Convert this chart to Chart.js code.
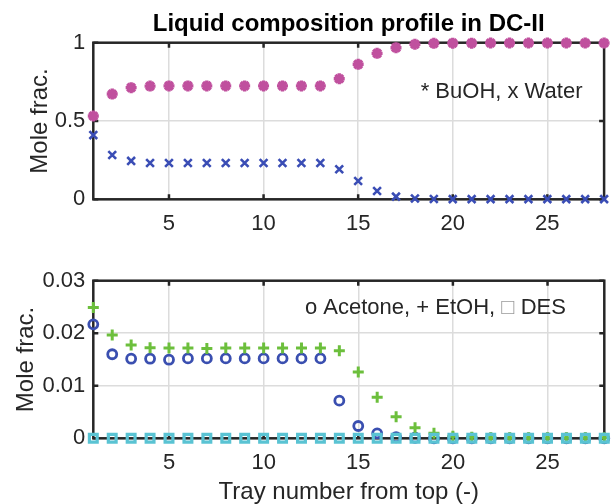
<!DOCTYPE html>
<html>
<head>
<meta charset="utf-8">
<script src="https://cdn.jsdelivr.net/npm/chart.js@4.4.1/dist/chart.umd.min.js"></script>
<style>
    html, body { margin: 0; padding: 0; background: #fff; }
    #wrap { position: relative; width: 613px; height: 504px; overflow: hidden; }
    .panel { position: absolute; left: 0; }
    #topPanel { top: 0; }
    #botPanel { top: 250px; }
</style>
</head>
<body>
<div id="wrap">
    <div class="panel" id="topPanel"><canvas id="topChart" width="613" height="250"></canvas></div>
    <div class="panel" id="botPanel"><canvas id="botChart" width="613" height="254"></canvas></div>
</div>
<script>
// Tray numbers (x axis)
const trays = [1, 2, 3, 4, 5, 6, 7, 8, 9, 10, 11, 12, 13, 14, 15, 16, 17, 18, 19, 20, 21, 22, 23, 24, 25, 26, 27, 28];

// Top panel: BuOH and Water liquid mole fractions
const buoh = [0.532, 0.672, 0.713, 0.723, 0.724, 0.724, 0.724, 0.724, 0.724, 0.724, 0.724, 0.724, 0.724, 0.770,
              0.862, 0.932, 0.968, 0.990, 0.996, 0.997, 0.997, 0.998, 0.998, 0.998, 0.998, 0.998, 0.998, 0.998];
const water = [0.410, 0.283, 0.245, 0.232, 0.232, 0.232, 0.232, 0.232, 0.232, 0.232, 0.232, 0.232, 0.232, 0.192,
               0.117, 0.053, 0.017, 0.005, 0.002, 0.001, 0.001, 0.001, 0.001, 0.001, 0.001, 0.001, 0.001, 0.001];

// Bottom panel: Acetone, EtOH and DES liquid mole fractions
const acetone = [0.0217, 0.0160, 0.01515, 0.01515, 0.01496, 0.0152, 0.0152, 0.0152, 0.0152, 0.0152, 0.0152, 0.0152, 0.0152, 0.00716,
                 0.00234, 0.00095, 0.0002, 0.0001, 0, 0, 0, 0, 0, 0, 0, 0, 0, 0];
const etoh = [0.0249, 0.01965, 0.01775, 0.01724, 0.0172, 0.0172, 0.0171, 0.0172, 0.0172, 0.0172, 0.0172, 0.0172, 0.0172, 0.01667,
              0.0126, 0.0078, 0.0041, 0.0020, 0.00095, 0.0004, 0.0002, 0.0001, 0.0001, 0.0001, 0.0001, 0.0001, 0.0001, 0.0001];
const des = [0, 0, 0, 0, 0, 0, 0, 0, 0, 0, 0, 0, 0, 0, 0, 0, 0, 0, 0, 0, 0, 0, 0, 0, 0, 0, 0, 0];

// Tick labels
const xTicks = [5, 10, 15, 20, 25];
const yTicksTop = [0, 0.5, 1];
const yTicksBot = [0, 0.01, 0.02, 0.03];

const FONT = '"Liberation Sans", Arial, Helvetica, sans-serif';
const axisColor = '#262626';
const gridColor = '#dcdcdc';

Chart.defaults.font.family = FONT;
Chart.defaults.color = axisColor;

function points(values) {
    return trays.map((t, i) => ({ x: t, y: values[i] }));
}

// Full box with inward tick marks, drawn under the markers
const framePlugin = {
    id: 'frame',
    beforeDatasetsDraw(chart) {
        const { ctx, chartArea: a, scales: { x, y } } = chart;
        ctx.save();
        ctx.strokeStyle = axisColor;
        ctx.lineWidth = 2.5;
        ctx.beginPath();
        x.ticks.forEach(t => {
            const px = x.getPixelForValue(t.value);
            ctx.moveTo(px, a.bottom); ctx.lineTo(px, a.bottom - 5);
            ctx.moveTo(px, a.top); ctx.lineTo(px, a.top + 5);
        });
        y.ticks.forEach(t => {
            const py = y.getPixelForValue(t.value);
            ctx.moveTo(a.left, py); ctx.lineTo(a.left + 5, py);
            ctx.moveTo(a.right, py); ctx.lineTo(a.right - 5, py);
        });
        ctx.stroke();
        ctx.strokeRect(a.left, a.top, a.right - a.left, a.bottom - a.top);
        ctx.restore();
    }
};

// Text note inside the axes (marker key)
function notePlugin(parts, x, y) {
    return {
        id: 'note',
        afterDraw(chart) {
            const ctx = chart.ctx;
            ctx.save();
            ctx.font = '22px ' + FONT;
            ctx.textBaseline = 'middle';
            ctx.textAlign = 'left';
            let cx = x;
            parts.forEach(p => {
                ctx.fillStyle = p.color || axisColor;
                ctx.fillText(p.text, cx, y);
                cx += ctx.measureText(p.text).width;
            });
            ctx.restore();
        }
    };
}

function xScale(height, title) {
    return {
        type: 'linear',
        min: 1,
        max: 28,
        afterBuildTicks: s => { s.ticks = xTicks.map(v => ({ value: v })); },
        afterFit: s => { s.height = height; },
        ticks: { font: { size: 22 }, color: axisColor, padding: 11, autoSkip: false, maxRotation: 0 },
        grid: { color: gridColor, lineWidth: 1.5, drawTicks: false, tickLength: 0 },
        border: { display: false },
        title: title ? {
            display: true, text: title, color: axisColor,
            font: { size: 24, lineHeight: 1 }, padding: { top: 0, bottom: 0 }
        } : { display: false }
    };
}

function yScale(max, tickList, titleOffset) {
    return {
        type: 'linear',
        min: 0,
        max: max,
        afterBuildTicks: s => { s.ticks = tickList.map(v => ({ value: v })); },
        afterFit: s => { s.width = 93.3; },
        ticks: { font: { size: 22 }, color: axisColor, padding: 8, autoSkip: false, callback: v => String(v) },
        grid: { color: gridColor, lineWidth: 1.5, drawTicks: false, tickLength: 0 },
        border: { display: false },
        title: {
            display: true, text: 'Mole frac.', color: axisColor,
            font: { size: 24, lineHeight: 1 }, padding: { top: titleOffset, bottom: 0 }
        }
    };
}

// Top chart: BuOH / Water
new Chart(document.getElementById('topChart').getContext('2d'), {
    type: 'scatter',
    data: {
        datasets: [
            {
                label: 'BuOH',
                data: points(buoh),
                pointStyle: 'star',
                pointRadius: 5.5,
                pointBorderWidth: 3.4,
                pointBorderColor: '#c0509e',
                pointBackgroundColor: '#c0509e',
                clip: false
            },
            {
                label: 'Water',
                data: points(water),
                pointStyle: 'crossRot',
                pointRadius: 5.5,
                pointBorderWidth: 2.6,
                pointBorderColor: '#3a4db5',
                pointBackgroundColor: '#3a4db5',
                clip: false
            }
        ]
    },
    options: {
        responsive: false,
        animation: false,
        layout: { padding: { left: 0, right: 2, top: 0, bottom: 0 } },
        scales: {
            x: xScale(50.7, null),
            y: yScale(1, yTicksTop, 28)
        },
        plugins: {
            legend: { display: false },
            tooltip: { enabled: false },
            title: {
                display: true,
                fullSize: false,
                text: 'Liquid composition profile in DC-II',
                color: '#000',
                font: { size: 24, weight: 'bold', lineHeight: 1.2 },
                padding: { top: 9.6, bottom: 4.3 }
            }
        }
    },
    plugins: [framePlugin, notePlugin([{ text: '* BuOH, x Water' }], 420.7, 91.7)]
});

// Bottom chart: Acetone / EtOH / DES (first dataset is drawn on top)
new Chart(document.getElementById('botChart').getContext('2d'), {
    type: 'scatter',
    data: {
        datasets: [
            {
                label: 'DES',
                data: points(des),
                pointStyle: 'rect',
                pointRadius: 5.5,
                pointBorderWidth: 3.2,
                pointBorderColor: '#5ac3d3',
                pointBackgroundColor: 'rgba(0,0,0,0)',
                clip: false
            },
            {
                label: 'EtOH',
                data: points(etoh),
                pointStyle: 'cross',
                pointRadius: 5.5,
                pointBorderWidth: 3,
                pointBorderColor: '#6cbf3c',
                pointBackgroundColor: '#6cbf3c',
                clip: false
            },
            {
                label: 'Acetone',
                data: points(acetone),
                pointStyle: 'circle',
                pointRadius: 4.5,
                pointBorderWidth: 2.8,
                pointBorderColor: '#3a4fb0',
                pointBackgroundColor: 'rgba(0,0,0,0)',
                clip: false
            }
        ]
    },
    options: {
        responsive: false,
        animation: false,
        layout: { padding: { left: 0, right: 2, top: 30.7, bottom: 0 } },
        scales: {
            x: xScale(65.7, 'Tray number from top (-)'),
            y: yScale(0.03, yTicksBot, 14)
        },
        plugins: {
            legend: { display: false },
            tooltip: { enabled: false }
        }
    },
    plugins: [framePlugin, notePlugin([
        { text: 'o Acetone, + EtOH, ' },
        { text: '\u25A1', color: '#9a9a9a' },
        { text: ' DES' }
    ], 305, 58)]
});
</script>
</body>
</html>
